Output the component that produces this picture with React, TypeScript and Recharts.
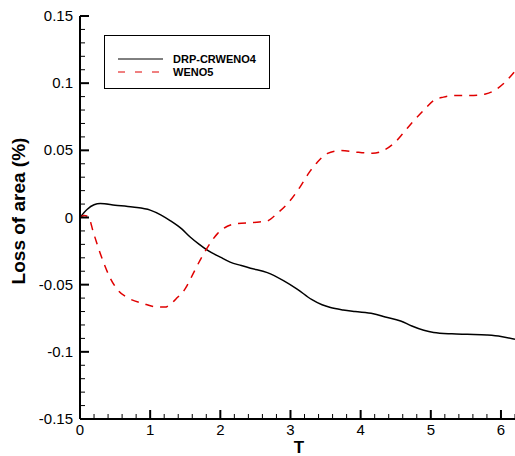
import React from 'react';
import { LineChart, Line, XAxis, YAxis, Legend } from 'recharts';

// DRP-CRWENO4 (solid black)
const DRP_T = [
  0, 0.1, 0.2, 0.29, 0.5, 0.75, 1.0, 1.15, 1.29, 1.45, 1.57, 1.7, 1.82, 2.0, 2.14, 2.3,
  2.43, 2.67, 2.9, 3.1, 3.3, 3.45, 3.57, 3.75, 3.92, 4.18, 4.35, 4.57, 4.73, 4.9, 5.04,
  5.3, 5.52, 5.8, 6.0, 6.2,
];
const DRP_LOSS = [
  0, 0.006, 0.0095, 0.0104, 0.0092, 0.0078, 0.0055, 0.002, -0.0025, -0.0085, -0.0145,
  -0.02, -0.0245, -0.0295, -0.0332, -0.0358, -0.0378, -0.041, -0.047, -0.0535, -0.061,
  -0.065, -0.067, -0.0688, -0.07, -0.0716, -0.074, -0.077, -0.0808, -0.084, -0.0856,
  -0.0866, -0.087, -0.0875, -0.0885, -0.0907,
];

// WENO5 (dashed red)
const WENO_T = [
  0, 0.06, 0.12, 0.19, 0.29, 0.43, 0.55, 0.69, 0.9, 1.07, 1.21, 1.3, 1.38, 1.5, 1.62,
  1.73, 1.82, 1.96, 2.1, 2.24, 2.47, 2.67, 2.81, 2.97, 3.14, 3.26, 3.38, 3.52, 3.71,
  3.97, 4.17, 4.32, 4.49, 4.61, 4.74, 4.92, 5.04, 5.18, 5.35, 5.56, 5.78, 5.92, 6.06, 6.2,
];
const WENO_LOSS = [
  0, 0.0015, 0.0005, -0.011, -0.027, -0.045, -0.0547, -0.06, -0.064, -0.0665, -0.0667,
  -0.064, -0.06, -0.053, -0.041, -0.03, -0.022, -0.012, -0.0065, -0.0045, -0.0037,
  -0.0025, 0.003, 0.011, 0.023, 0.033, 0.041, 0.0475, 0.0498, 0.0485, 0.0478, 0.0498,
  0.056, 0.063, 0.071, 0.081, 0.087, 0.0896, 0.0908, 0.0908, 0.092, 0.095, 0.1008, 0.109,
];

const X_TICKS = [
  0, 0.2, 0.4, 0.6, 0.8, 1, 1.2, 1.4, 1.6, 1.8, 2, 2.2, 2.4, 2.6, 2.8, 3, 3.2, 3.4, 3.6,
  3.8, 4, 4.2, 4.4, 4.6, 4.8, 5, 5.2, 5.4, 5.6, 5.8, 6, 6.2,
];
const X_MAJOR = [0, 1, 2, 3, 4, 5, 6];
const X_LABELS = ['0', '1', '2', '3', '4', '5', '6'];

const Y_TICKS = [
  -0.15, -0.14, -0.13, -0.12, -0.11, -0.1, -0.09, -0.08, -0.07, -0.06, -0.05, -0.04,
  -0.03, -0.02, -0.01, 0, 0.01, 0.02, 0.03, 0.04, 0.05, 0.06, 0.07, 0.08, 0.09, 0.1,
  0.11, 0.12, 0.13, 0.14, 0.15,
];
const Y_MAJOR = [-0.15, -0.1, -0.05, 0, 0.05, 0.1, 0.15];
const Y_LABELS = ['-0.15', '-0.1', '-0.05', '0', '0.05', '0.1', '0.15'];

const FONT = '"Liberation Sans", Arial, sans-serif';
const RED = '#e00000';

const drpData = DRP_T.map((t, i) => ({ t, loss: DRP_LOSS[i] }));
const wenoData = WENO_T.map((t, i) => ({ t, loss: WENO_LOSS[i] }));

const findMajor = (list: number[], v: number) =>
  list.findIndex(m => Math.abs(m - v) < 1e-9);

const XTick = (props: any) => {
  const { x, y, payload } = props;
  const idx = findMajor(X_MAJOR, payload.value);
  const major = idx >= 0;
  return (
    <g>
      <line x1={x} x2={x} y1={y} y2={y - (major ? 9 : 5)} stroke="#000" strokeWidth={major ? 2 : 1} />
      {major && (
        <text x={x} y={y + 16} textAnchor="middle" fontSize={15} fontFamily={FONT} fill="#000">
          {X_LABELS[idx]}
        </text>
      )}
    </g>
  );
};

const YTick = (props: any) => {
  const { x, y, payload } = props;
  const idx = findMajor(Y_MAJOR, payload.value);
  const major = idx >= 0;
  return (
    <g>
      <line x1={x} x2={x + (major ? 9 : 5)} y1={y} y2={y} stroke="#000" strokeWidth={major ? 2 : 1} />
      {major && (
        <text x={x - 7} y={y + 5} textAnchor="end" fontSize={15} fontFamily={FONT} fill="#000">
          {Y_LABELS[idx]}
        </text>
      )}
    </g>
  );
};

// legend box drawn like the Tecplot frame
const LegendBox = () => (
  <div
    style={{
      width: 166,
      height: 54,
      boxSizing: 'border-box',
      border: '1px solid #000',
      background: '#fff',
    }}
  >
    <svg width={164} height={52} style={{ display: 'block' }}>
      <line x1={13} x2={58} y1={23} y2={23} stroke="#000" strokeWidth={1} />
      <text x={68} y={27} fontSize={11} fontWeight="bold" fontFamily={FONT} fill="#000">
        DRP-CRWENO4
      </text>
      <line x1={13} x2={58} y1={36} y2={36} stroke={RED} strokeWidth={1} strokeDasharray="7 10" />
      <text x={68} y={39.5} fontSize={11} fontWeight="bold" fontFamily={FONT} fill="#000">
        WENO5
      </text>
    </svg>
  </div>
);

export default function App() {
  return (
    <div style={{ position: 'absolute', left: 0, top: 0, width: 515, height: 456, background: '#fff' }}>
      <LineChart width={515} height={456} margin={{ top: 16, right: 0, left: 0, bottom: 0 }}>
        <XAxis
          dataKey="t"
          type="number"
          domain={[0, 6.2]}
          ticks={X_TICKS}
          interval={0}
          allowDataOverflow
          height={37}
          tickSize={0}
          tickMargin={0}
          tickLine={false}
          axisLine={{ stroke: '#000', strokeWidth: 2 }}
          tick={<XTick />}
          label={() => (
            <text x={299} y={453} textAnchor="middle" fontSize={17} fontWeight="bold" fontFamily={FONT} fill="#000">
              T
            </text>
          )}
        />
        <YAxis
          type="number"
          domain={[-0.15, 0.15]}
          ticks={Y_TICKS}
          interval={0}
          allowDataOverflow
          width={80}
          tickSize={0}
          tickMargin={0}
          tickLine={false}
          axisLine={{ stroke: '#000', strokeWidth: 2 }}
          tick={<YTick />}
          label={() => (
            <text
              x={25}
              y={211}
              textAnchor="middle"
              fontSize={19}
              fontWeight="bold"
              fontFamily={FONT}
              fill="#000"
              transform="rotate(-90, 25, 211)"
            >
              Loss of area (%)
            </text>
          )}
        />
        <Legend
          layout="horizontal"
          verticalAlign="middle"
          align="center"
          wrapperStyle={{ left: 104, top: 35, width: 166, height: 54 }}
          content={() => <LegendBox />}
        />
        <Line
          data={drpData}
          dataKey="loss"
          name="DRP-CRWENO4"
          type="monotone"
          stroke="#000"
          strokeWidth={1.5}
          dot={false}
          isAnimationActive={false}
        />
        <Line
          data={wenoData}
          dataKey="loss"
          name="WENO5"
          type="monotone"
          stroke={RED}
          strokeWidth={1.5}
          strokeDasharray="8 7"
          dot={false}
          isAnimationActive={false}
        />
      </LineChart>
    </div>
  );
}
